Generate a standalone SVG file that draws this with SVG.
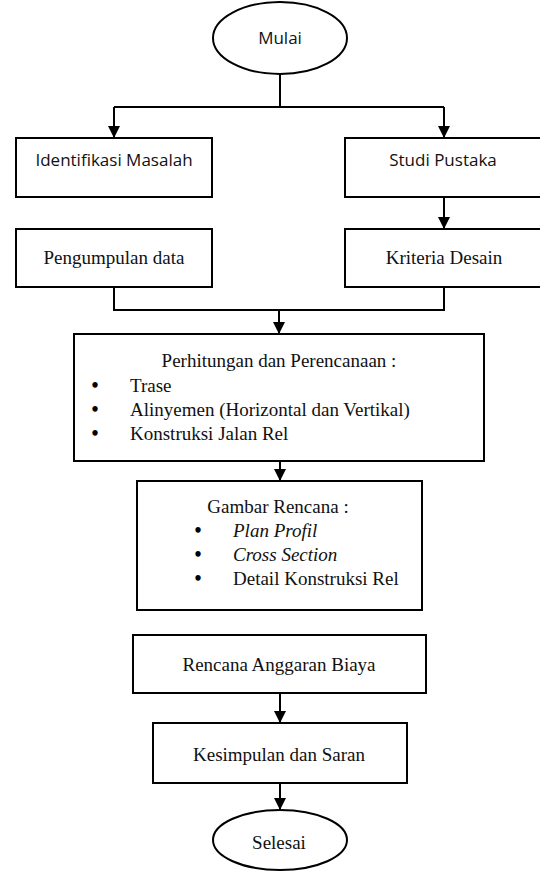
<svg xmlns="http://www.w3.org/2000/svg" width="540" height="872" viewBox="0 0 540 872">
<style>
.shape{fill:#fff;stroke:#000;stroke-width:2}
.line{fill:none;stroke:#000;stroke-width:2}
.sans{font-family:"Open Sans","Liberation Sans",sans-serif;font-size:17px;fill:#111}
.serif{font-family:"Liberation Serif","Times New Roman",serif;font-size:19px;fill:#111}
.bul{font-family:"Liberation Serif","Times New Roman",serif;font-size:20px;font-weight:bold;fill:#000;text-anchor:middle}
.it{font-style:italic}
.c{text-anchor:middle}
</style>
<defs>
<marker id="arr" viewBox="0 0 12 12" refX="12" refY="6" markerWidth="12" markerHeight="12" markerUnits="userSpaceOnUse" orient="auto">
<path d="M0,0 L12,6 L0,12 Z" fill="#000"/>
</marker>
</defs>
<g id="connectors">
<path class="line" d="M280,74 V107"/>
<path class="line" d="M114,107 H444"/>
<path class="line" d="M114,107 V138" marker-end="url(#arr)"/>
<path class="line" d="M444,107 V138" marker-end="url(#arr)"/>
<path class="line" d="M444,197 V229" marker-end="url(#arr)"/>
<path class="line" d="M114,287 V310 H444 V287"/>
<path class="line" d="M279,310 V334" marker-end="url(#arr)"/>
<path class="line" d="M280,461 V481" marker-end="url(#arr)"/>
<path class="line" d="M280,693 V723" marker-end="url(#arr)"/>
<path class="line" d="M280,783 V810" marker-end="url(#arr)"/>
</g>
<g id="mulai">
<ellipse class="shape" cx="280" cy="38" rx="67" ry="36"/>
<text class="sans c" x="280" y="44">Mulai</text>
</g>
<g id="identifikasi">
<rect class="shape" x="16" y="138" width="196" height="59"/>
<text class="sans c" x="114" y="166">Identifikasi Masalah</text>
</g>
<g id="studi">
<rect class="shape" x="345" y="138" width="200" height="59"/>
<text class="sans c" x="443" y="166">Studi Pustaka</text>
</g>
<g id="pengumpulan">
<rect class="shape" x="16" y="229" width="196" height="58"/>
<text class="serif c" x="114" y="264">Pengumpulan data</text>
</g>
<g id="kriteria">
<rect class="shape" x="345" y="229" width="200" height="58"/>
<text class="serif c" x="444" y="264">Kriteria Desain</text>
</g>
<g id="perhitungan">
<rect class="shape" x="74" y="334" width="410" height="127"/>
<text class="serif c" x="279" y="367">Perhitungan dan Perencanaan :</text>
<text class="bul" x="95" y="392">•</text>
<text class="serif" x="130" y="392">Trase</text>
<text class="bul" x="95" y="416">•</text>
<text class="serif" x="130" y="416">Alinyemen (Horizontal dan Vertikal)</text>
<text class="bul" x="95" y="440">•</text>
<text class="serif" x="130" y="440">Konstruksi Jalan Rel</text>
</g>
<g id="gambar">
<rect class="shape" x="137" y="481" width="285" height="129"/>
<text class="serif c" x="278" y="513">Gambar Rencana :</text>
<text class="bul" x="198" y="537">•</text>
<text class="serif it" x="233" y="537">Plan Profil</text>
<text class="bul" x="198" y="561">•</text>
<text class="serif it" x="233" y="561">Cross Section</text>
<text class="bul" x="198" y="585">•</text>
<text class="serif" x="233" y="585">Detail Konstruksi Rel</text>
</g>
<g id="rab">
<rect class="shape" x="133" y="635" width="293" height="58"/>
<text class="serif c" x="279" y="671">Rencana Anggaran Biaya</text>
</g>
<g id="kesimpulan">
<rect class="shape" x="153" y="723" width="254" height="60"/>
<text class="serif c" x="279" y="761">Kesimpulan dan Saran</text>
</g>
<g id="selesai">
<ellipse class="shape" cx="280" cy="840" rx="67" ry="30"/>
<text class="serif c" x="279" y="849">Selesai</text>
</g>
</svg>
